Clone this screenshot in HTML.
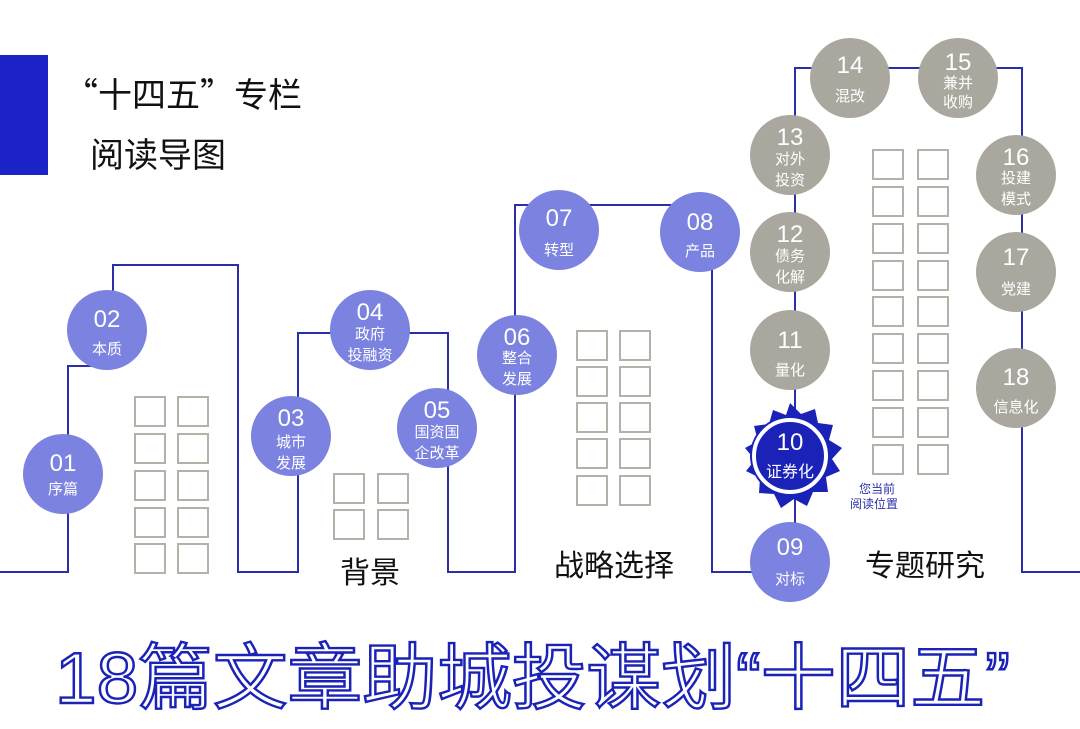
<!DOCTYPE html>
<html><head><meta charset="utf-8"><style>
html,body{margin:0;padding:0;background:#fff;width:1080px;height:729px;overflow:hidden}
svg text{font-family:"Liberation Sans","Noto Sans CJK SC",sans-serif}
</style></head><body>
<svg width="1080" height="729" viewBox="0 0 1080 729" xmlns="http://www.w3.org/2000/svg">
<rect x="0" y="55" width="48" height="120" fill="#1a22c8"/>
<text x="64" y="107" font-size="34" fill="#111"><tspan style="font-family:'Noto Sans CJK SC',sans-serif">“十四五”专栏</tspan></text>
<text x="90" y="167" font-size="34" fill="#111">阅读导图</text>
<g fill="none" stroke="#2a2fa8" stroke-width="2">
<polyline points="0,572 68,572 68,366 100,366"/>
<polyline points="113,300 113,265 238,265 238,572 298,572 298,333 372,333 448,333 448,572 515,572 515,205 700,205 712,205"/>
<polyline points="712,240 712,572 760,572"/>
<polyline points="795,600 795,68 1022,68 1022,572 1080,572"/>
</g>
<g fill="none" stroke="#b3b1a8" stroke-width="2">
<rect x="135" y="397" width="30" height="29"/><rect x="178" y="397" width="30" height="29"/>
<rect x="135" y="434" width="30" height="29"/><rect x="178" y="434" width="30" height="29"/>
<rect x="135" y="471" width="30" height="29"/><rect x="178" y="471" width="30" height="29"/>
<rect x="135" y="508" width="30" height="29"/><rect x="178" y="508" width="30" height="29"/>
<rect x="135" y="544" width="30" height="29"/><rect x="178" y="544" width="30" height="29"/>
<rect x="334" y="474" width="30" height="29"/><rect x="378" y="474" width="30" height="29"/>
<rect x="334" y="510" width="30" height="29"/><rect x="378" y="510" width="30" height="29"/>
<rect x="577" y="331" width="30" height="29"/><rect x="620" y="331" width="30" height="29"/>
<rect x="577" y="367" width="30" height="29"/><rect x="620" y="367" width="30" height="29"/>
<rect x="577" y="403" width="30" height="29"/><rect x="620" y="403" width="30" height="29"/>
<rect x="577" y="439" width="30" height="29"/><rect x="620" y="439" width="30" height="29"/>
<rect x="577" y="476" width="30" height="29"/><rect x="620" y="476" width="30" height="29"/>
<rect x="873" y="150" width="30" height="29"/><rect x="918" y="150" width="30" height="29"/>
<rect x="873" y="187" width="30" height="29"/><rect x="918" y="187" width="30" height="29"/>
<rect x="873" y="224" width="30" height="29"/><rect x="918" y="224" width="30" height="29"/>
<rect x="873" y="261" width="30" height="29"/><rect x="918" y="261" width="30" height="29"/>
<rect x="873" y="297" width="30" height="29"/><rect x="918" y="297" width="30" height="29"/>
<rect x="873" y="334" width="30" height="29"/><rect x="918" y="334" width="30" height="29"/>
<rect x="873" y="371" width="30" height="29"/><rect x="918" y="371" width="30" height="29"/>
<rect x="873" y="408" width="30" height="29"/><rect x="918" y="408" width="30" height="29"/>
<rect x="873" y="445" width="30" height="29"/><rect x="918" y="445" width="30" height="29"/>
</g>
<g fill="#7b82e0">
<circle cx="63" cy="474" r="40"/><circle cx="107" cy="330" r="40"/><circle cx="291" cy="436" r="40"/>
<circle cx="370" cy="330" r="40"/><circle cx="437" cy="428" r="40"/><circle cx="517" cy="355" r="40"/>
<circle cx="559" cy="230" r="40"/><circle cx="700" cy="232" r="40"/><circle cx="790" cy="562" r="40"/>
</g>
<g fill="#a9a79e">
<circle cx="790" cy="350" r="40"/><circle cx="790" cy="252" r="40"/><circle cx="790" cy="155" r="40"/>
<circle cx="850" cy="78" r="40"/><circle cx="958" cy="78" r="40"/><circle cx="1016" cy="175" r="40"/>
<circle cx="1016" cy="272" r="40"/><circle cx="1016" cy="388" r="40"/>
</g>
<polygon fill="#1a22b8" points="790,403 801,414 815,409 818,423 833,425 829,440 842,448 832,459 840,471 826,477 828,492 813,492 807,506 794,499 781,508 774,494 759,493 760,478 746,471 755,460 745,448 758,441 754,426 769,424 773,410 786,415"/>
<circle cx="790" cy="456" r="40" fill="#1a22b8"/>
<circle cx="790" cy="456" r="36" fill="none" stroke="#fff" stroke-width="4"/>
<g fill="#fff" text-anchor="middle">
<g font-size="24">
<text x="63" y="471">01</text><text x="107" y="327">02</text><text x="291" y="426">03</text>
<text x="370" y="320">04</text><text x="437" y="418">05</text><text x="517" y="345">06</text>
<text x="559" y="226">07</text><text x="700" y="230">08</text><text x="790" y="555">09</text>
<text x="790" y="450">10</text><text x="790" y="348">11</text><text x="790" y="242">12</text>
<text x="790" y="145">13</text><text x="850" y="73">14</text><text x="958" y="70">15</text>
<text x="1016" y="165">16</text><text x="1016" y="265">17</text><text x="1016" y="385">18</text>
</g>
<g font-size="15">
<text x="63" y="494">序篇</text><text x="107" y="354">本质</text>
<text x="291" y="447">城市</text><text x="291" y="468">发展</text>
<text x="370" y="339">政府</text><text x="370" y="360">投融资</text>
<text x="437" y="437">国资国</text><text x="437" y="458">企改革</text>
<text x="517" y="363">整合</text><text x="517" y="384">发展</text>
<text x="559" y="255">转型</text><text x="700" y="256">产品</text>
<text x="790" y="584">对标</text><text x="790" y="477" font-size="16">证券化</text>
<text x="790" y="375">量化</text>
<text x="790" y="261">债务</text><text x="790" y="282">化解</text>
<text x="790" y="164">对外</text><text x="790" y="185">投资</text>
<text x="850" y="101">混改</text>
<text x="958" y="88">兼并</text><text x="958" y="107">收购</text>
<text x="1016" y="183">投建</text><text x="1016" y="204">模式</text>
<text x="1016" y="294">党建</text><text x="1016" y="412">信息化</text>
</g>
</g>
<text x="877" y="493" font-size="12" fill="#2a2fa8" text-anchor="middle">您当前</text>
<text x="874" y="508" font-size="12" fill="#2a2fa8" text-anchor="middle">阅读位置</text>
<g font-size="30" fill="#111" text-anchor="middle">
<text x="370" y="583">背景</text><text x="614" y="576">战略选择</text><text x="925" y="576">专题研究</text>
</g>
<text x="55" y="703" font-size="72" fill="#fff" stroke="#1a22b8" stroke-width="2.4" textLength="955" lengthAdjust="spacingAndGlyphs">18篇文章助城投谋划“十四五”</text>
</svg>
</body></html>
